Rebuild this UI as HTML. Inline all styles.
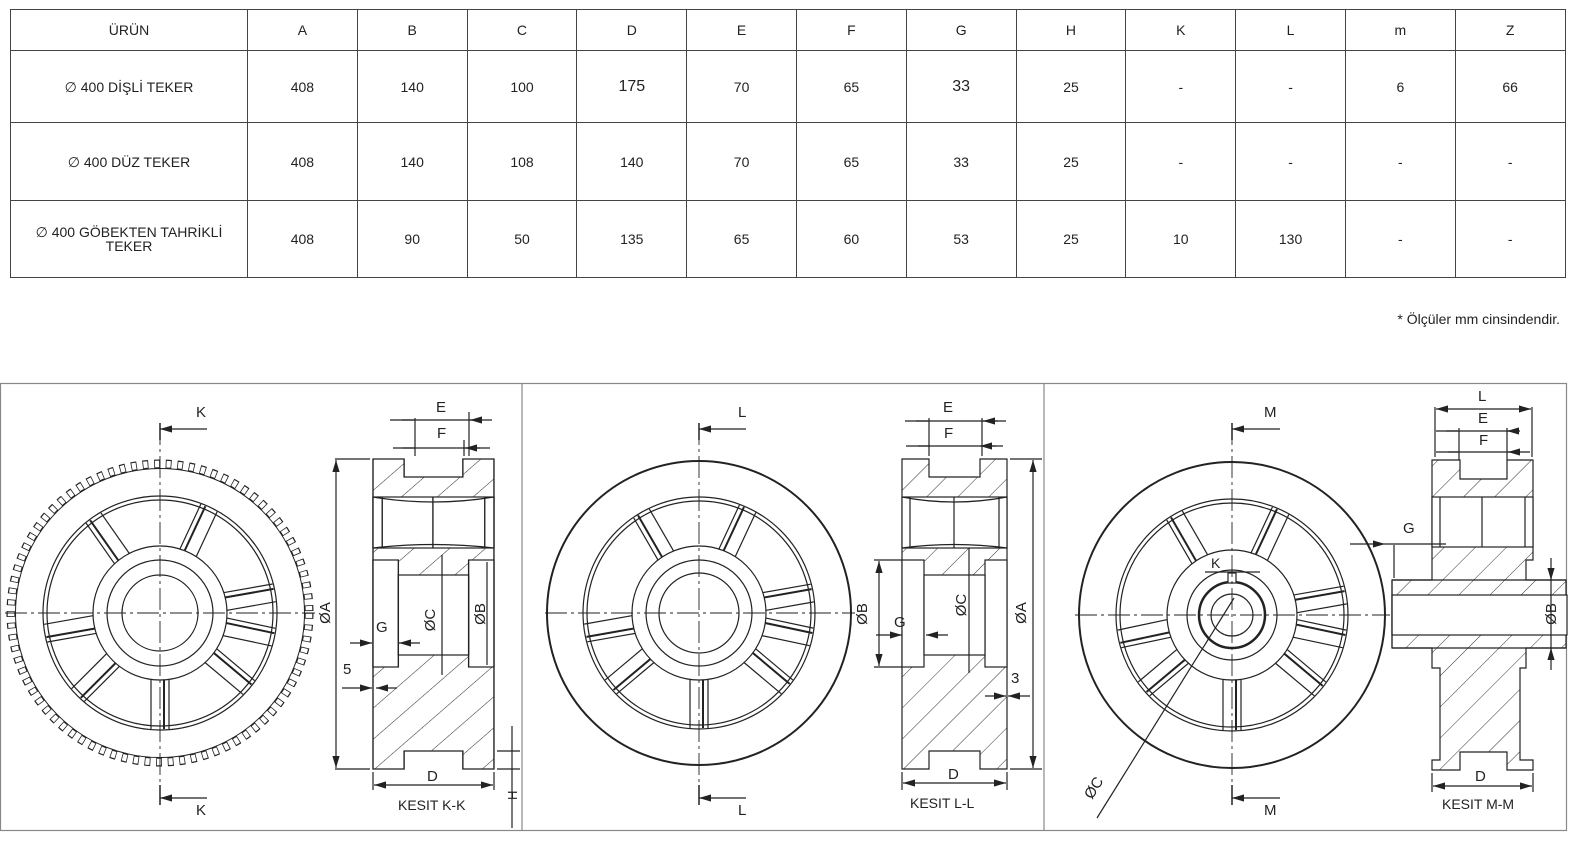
<!DOCTYPE html>
<html><head><meta charset="utf-8"><style>
body{margin:0;background:#fff;width:1596px;height:847px;overflow:hidden;position:relative;font-family:"Liberation Sans",sans-serif;color:#222}
table{position:absolute;left:10px;top:9px;border-collapse:collapse;width:1555px;font-size:14px;table-layout:fixed}
td{border:1px solid #444;text-align:center;padding:0;line-height:14px}
tr.h td{height:40px}
tr.r1 td{height:71px}
tr.r2 td{height:77px}
tr.r3 td{height:76px}
.note{position:absolute;left:1300px;top:311px;width:260px;text-align:right;font-size:14px}
svg{position:absolute;left:0;top:0}
</style></head><body>
<table>
<colgroup><col style="width:237px"><col span="12" style="width:109.8px"></colgroup>
<tr class="h"><td>ÜRÜN</td><td>A</td><td>B</td><td>C</td><td>D</td><td>E</td><td>F</td><td>G</td><td>H</td><td>K</td><td>L</td><td>m</td><td>Z</td></tr>
<tr class="r1"><td>∅ 400 DİŞLİ TEKER</td><td>408</td><td>140</td><td>100</td><td style="font-size:16px">175</td><td>70</td><td>65</td><td style="font-size:16px">33</td><td>25</td><td>-</td><td>-</td><td>6</td><td>66</td></tr>
<tr class="r2"><td>∅ 400 DÜZ TEKER</td><td>408</td><td>140</td><td>108</td><td>140</td><td>70</td><td>65</td><td>33</td><td>25</td><td>-</td><td>-</td><td>-</td><td>-</td></tr>
<tr class="r3"><td>∅ 400 GÖBEKTEN TAHRİKLİ<br>TEKER</td><td>408</td><td>90</td><td>50</td><td>135</td><td>65</td><td>60</td><td>53</td><td>25</td><td>10</td><td>130</td><td>-</td><td>-</td></tr>
</table>
<div class="note">* Ölçüler mm cinsindendir.</div>
<svg width="1596" height="847" viewBox="0 0 1596 847" font-family="Liberation Sans, sans-serif" font-size="15" fill="none" stroke="#222" stroke-width="1.2">
<defs>
<pattern id="ht" patternUnits="userSpaceOnUse" width="22" height="22" patternTransform="rotate(45)"><line x1="0" y1="0" x2="0" y2="22" stroke="#333" stroke-width="1"/></pattern>
<marker id="ar" viewBox="0 0 10 6" refX="10" refY="3" markerWidth="10" markerHeight="6" orient="auto-start-reverse"><path d="M0,0L10,3L0,6z" fill="#222" stroke="none"/></marker>
<g id="spk"><line x1="0" y1="-9" x2="100" y2="-9"/><line x1="0" y1="9" x2="100" y2="9"/><line x1="0" y1="-4" x2="100" y2="-4" stroke-width="2"/></g>
<g id="sec">
<path d="M0,0H27V18H78V0H105V310H78V292H27V310H0Z" fill="url(#ht)"/>
<rect x="0" y="38" width="105" height="51" fill="#fff"/>
<line x1="8" y1="38" x2="8" y2="89"/><line x1="97" y1="38" x2="97" y2="89"/><line x1="52" y1="38" x2="52" y2="89"/>
<path d="M0,38Q52,48 105,38M0,89Q52,82 105,89"/>
<rect x="0" y="101" width="22" height="107" fill="#fff"/><rect x="83" y="101" width="22" height="107" fill="#fff"/>
<rect x="22" y="116" width="61" height="80" fill="#fff"/>
</g>
</defs>
<rect x="0.5" y="383.5" width="1566" height="447" stroke="#888"/>
<line x1="522" y1="383" x2="522" y2="830" stroke="#888"/><line x1="1044" y1="383" x2="1044" y2="830" stroke="#888"/>

<!-- panel 1 -->
<g>
<circle cx="160" cy="613" r="149" stroke="#222" stroke-width="9" stroke-dasharray="5.8 5.8"/>
<circle cx="160" cy="613" r="149" stroke="#fff" stroke-width="6.6" stroke-dasharray="4.2 7.4" stroke-dashoffset="-0.8"/>
<circle cx="160" cy="613" r="144.5" stroke-width="1"/>
<circle cx="160" cy="613" r="117"/><circle cx="160" cy="613" r="113"/>
<g transform="translate(160 613)">
<use href="#spk" transform="rotate(90) translate(63 0) scale(0.53 1)"/><use href="#spk" transform="rotate(135) translate(63 0) scale(0.53 1)"/><use href="#spk" transform="rotate(170) translate(63 0) scale(0.53 1)"/><use href="#spk" transform="rotate(235) translate(63 0) scale(0.53 1)"/><use href="#spk" transform="rotate(295) translate(63 0) scale(0.53 1)"/><use href="#spk" transform="rotate(350) translate(63 0) scale(0.53 1)"/><use href="#spk" transform="rotate(40) translate(63 0) scale(0.53 1)"/><use href="#spk" transform="rotate(12) translate(63 0) scale(0.53 1)"/>
</g>
<circle cx="160" cy="613" r="67" fill="#fff"/><circle cx="160" cy="613" r="53"/><circle cx="160" cy="613" r="38"/>
<line x1="5" y1="613" x2="315" y2="613" stroke-dasharray="22 4 3 4" stroke-width="0.9"/>
<line x1="160" y1="423" x2="160" y2="805" stroke-dasharray="22 4 3 4" stroke-width="0.9"/>
<line x1="160" y1="423" x2="160" y2="440" stroke-width="1.5"/><line x1="207" y1="429" x2="160" y2="429" marker-end="url(#ar)"/>
<line x1="160" y1="785" x2="160" y2="805" stroke-width="1.5"/><line x1="207" y1="798" x2="160" y2="798" marker-end="url(#ar)"/>
<text x="196" y="417" fill="#222" stroke="none">K</text><text x="196" y="815" fill="#222" stroke="none">K</text>
<use href="#sec" transform="translate(373 459) scale(1.152 1)"/>
<line x1="335" y1="459" x2="370" y2="459"/><line x1="335" y1="769" x2="370" y2="769"/>
<line x1="336" y1="460" x2="336" y2="768" marker-start="url(#ar)" marker-end="url(#ar)"/>
<text transform="translate(330 613) rotate(-90)" text-anchor="middle" fill="#222" stroke="none">ØA</text>
<line x1="415" y1="418" x2="415" y2="456"/><line x1="469" y1="412" x2="469" y2="456"/><line x1="464" y1="440" x2="464" y2="456"/>
<line x1="390" y1="420" x2="492" y2="420"/><path d="M402,420H414M482,420H470" marker-end="url(#ar)"/>
<line x1="393" y1="448" x2="490" y2="448"/><path d="M403,448H414M480,448H465" marker-end="url(#ar)"/>
<text x="436" y="412" fill="#222" stroke="none">E</text><text x="437" y="438" fill="#222" stroke="none">F</text>
<text transform="translate(435 620) rotate(-90)" text-anchor="middle" fill="#222" stroke="none">ØC</text>
<text transform="translate(485 614) rotate(-90)" text-anchor="middle" fill="#222" stroke="none">ØB</text>
<line x1="442" y1="555" x2="442" y2="675"/><line x1="487" y1="562" x2="487" y2="665"/>
<text x="376" y="632" fill="#222" stroke="none">G</text>
<line x1="350" y1="643" x2="372" y2="643" marker-end="url(#ar)"/><line x1="420" y1="643" x2="399" y2="643" marker-end="url(#ar)"/>
<text x="343" y="674" fill="#222" stroke="none">5</text>
<line x1="342" y1="688" x2="372" y2="688" marker-end="url(#ar)"/><line x1="397" y1="688" x2="376" y2="688" marker-end="url(#ar)"/>
<line x1="373" y1="772" x2="373" y2="790"/><line x1="494" y1="772" x2="494" y2="790"/>
<line x1="374" y1="785" x2="493" y2="785" marker-start="url(#ar)" marker-end="url(#ar)"/>
<text x="427" y="781" fill="#222" stroke="none">D</text>
<text x="398" y="810" fill="#222" stroke="none" font-size="14">KESIT K-K</text>
<line x1="512" y1="726" x2="512" y2="828"/><line x1="497" y1="751" x2="520" y2="751"/><line x1="497" y1="769" x2="520" y2="769"/>
<text transform="translate(517 800) rotate(-90)" fill="#222" stroke="none" font-size="13">H</text>
</g>

<!-- panel 2 -->
<g>
<circle cx="699" cy="613" r="152" stroke-width="2"/>
<circle cx="699" cy="613" r="116"/><circle cx="699" cy="613" r="112"/>
<g transform="translate(699 613)">
<use href="#spk" transform="rotate(90) translate(63 0) scale(0.52 1)"/><use href="#spk" transform="rotate(140) translate(63 0) scale(0.52 1)"/><use href="#spk" transform="rotate(170) translate(63 0) scale(0.52 1)"/><use href="#spk" transform="rotate(240) translate(63 0) scale(0.52 1)"/><use href="#spk" transform="rotate(295) translate(63 0) scale(0.52 1)"/><use href="#spk" transform="rotate(350) translate(63 0) scale(0.52 1)"/><use href="#spk" transform="rotate(40) translate(63 0) scale(0.52 1)"/><use href="#spk" transform="rotate(12) translate(63 0) scale(0.52 1)"/>
</g>
<circle cx="699" cy="613" r="67" fill="#fff"/><circle cx="699" cy="613" r="53"/><circle cx="699" cy="613" r="40"/>
<line x1="545" y1="613" x2="855" y2="613" stroke-dasharray="22 4 3 4" stroke-width="0.9"/>
<line x1="699" y1="423" x2="699" y2="805" stroke-dasharray="22 4 3 4" stroke-width="0.9"/>
<line x1="699" y1="423" x2="699" y2="440" stroke-width="1.5"/><line x1="746" y1="429" x2="699" y2="429" marker-end="url(#ar)"/>
<line x1="699" y1="785" x2="699" y2="805" stroke-width="1.5"/><line x1="746" y1="798" x2="699" y2="798" marker-end="url(#ar)"/>
<text x="738" y="417" fill="#222" stroke="none">L</text><text x="738" y="815" fill="#222" stroke="none">L</text>
<use href="#sec" transform="translate(902 459)"/>
<line x1="1010" y1="459" x2="1042" y2="459"/><line x1="1010" y1="769" x2="1042" y2="769"/>
<line x1="1033" y1="460" x2="1033" y2="768" marker-start="url(#ar)" marker-end="url(#ar)"/>
<text transform="translate(1026 613) rotate(-90)" text-anchor="middle" fill="#222" stroke="none">ØA</text>
<line x1="929" y1="418" x2="929" y2="456"/><line x1="982" y1="418" x2="982" y2="456"/>
<line x1="905" y1="421" x2="1006" y2="421"/><path d="M916,421H928M998,421H983" marker-end="url(#ar)"/>
<line x1="906" y1="446" x2="1003" y2="446"/><path d="M918,446H930M996,446H980" marker-end="url(#ar)"/>
<text x="943" y="412" fill="#222" stroke="none">E</text><text x="944" y="438" fill="#222" stroke="none">F</text>
<text transform="translate(966 605) rotate(-90)" text-anchor="middle" fill="#222" stroke="none">ØC</text>
<line x1="969" y1="548" x2="969" y2="673"/>
<line x1="874" y1="560" x2="902" y2="560"/><line x1="874" y1="667" x2="902" y2="667"/>
<line x1="879" y1="561" x2="879" y2="666" marker-start="url(#ar)" marker-end="url(#ar)"/>
<text transform="translate(867 614) rotate(-90)" text-anchor="middle" fill="#222" stroke="none">ØB</text>
<text x="894" y="627" fill="#222" stroke="none">G</text>
<line x1="876" y1="635" x2="902" y2="635" marker-end="url(#ar)"/><line x1="948" y1="635" x2="926" y2="635" marker-end="url(#ar)"/>
<text x="1011" y="683" fill="#222" stroke="none">3</text>
<line x1="985" y1="696" x2="1006" y2="696" marker-end="url(#ar)"/><line x1="1030" y1="696" x2="1008" y2="696" marker-end="url(#ar)"/>
<line x1="902" y1="772" x2="902" y2="790"/><line x1="1007" y1="772" x2="1007" y2="790"/>
<line x1="903" y1="783" x2="1006" y2="783" marker-start="url(#ar)" marker-end="url(#ar)"/>
<text x="948" y="779" fill="#222" stroke="none">D</text>
<text x="910" y="808" fill="#222" stroke="none" font-size="14">KESIT L-L</text>
</g>

<!-- panel 3 -->
<g>
<circle cx="1232" cy="615" r="153" stroke-width="2"/>
<circle cx="1232" cy="615" r="116"/><circle cx="1232" cy="615" r="112"/>
<g transform="translate(1232 615)">
<use href="#spk" transform="rotate(90) translate(63 0) scale(0.52 1)"/><use href="#spk" transform="rotate(140) translate(63 0) scale(0.52 1)"/><use href="#spk" transform="rotate(168) translate(63 0) scale(0.52 1)"/><use href="#spk" transform="rotate(240) translate(63 0) scale(0.52 1)"/><use href="#spk" transform="rotate(295) translate(63 0) scale(0.52 1)"/><use href="#spk" transform="rotate(350) translate(63 0) scale(0.52 1)"/><use href="#spk" transform="rotate(40) translate(63 0) scale(0.52 1)"/><use href="#spk" transform="rotate(12) translate(63 0) scale(0.52 1)"/>
</g>
<circle cx="1232" cy="615" r="65" fill="#fff"/><circle cx="1232" cy="615" r="45"/><circle cx="1232" cy="615" r="33" stroke-width="2.5"/><circle cx="1232" cy="615" r="21"/>
<rect x="1228" y="573" width="8" height="10" fill="#fff"/>
<line x1="1075" y1="615" x2="1390" y2="615" stroke-dasharray="22 4 3 4" stroke-width="0.9"/>
<line x1="1232" y1="423" x2="1232" y2="805" stroke-dasharray="22 4 3 4" stroke-width="0.9"/>
<line x1="1232" y1="423" x2="1232" y2="440" stroke-width="1.5"/><line x1="1280" y1="429" x2="1232" y2="429" marker-end="url(#ar)"/>
<line x1="1232" y1="785" x2="1232" y2="805" stroke-width="1.5"/><line x1="1280" y1="798" x2="1232" y2="798" marker-end="url(#ar)"/>
<text x="1264" y="417" fill="#222" stroke="none">M</text><text x="1264" y="815" fill="#222" stroke="none">M</text>
<line x1="1234" y1="598" x2="1097" y2="818"/>
<text transform="translate(1092 800) rotate(-58)" fill="#222" stroke="none">ØC</text>
<line x1="1205" y1="572" x2="1260" y2="572"/><text x="1211" y="568" fill="#222" stroke="none" font-size="14">K</text>
<path d="M1432,460H1460V479H1507V460H1533V560H1526V580H1566V648H1526V668H1520V760H1533V770H1507V752H1460V770H1432V760H1440V668H1432V648H1392V580H1432Z" fill="url(#ht)"/>
<rect x="1432" y="497" width="101" height="50" fill="#fff"/>
<line x1="1440" y1="497" x2="1440" y2="547"/><line x1="1525" y1="497" x2="1525" y2="547"/><line x1="1482" y1="497" x2="1482" y2="547"/>
<rect x="1392" y="595" width="175" height="40" fill="#fff"/>
<line x1="1392" y1="580" x2="1566" y2="580"/><line x1="1392" y1="648" x2="1566" y2="648"/><line x1="1392" y1="580" x2="1392" y2="648"/>
<line x1="1435" y1="407" x2="1435" y2="457"/><line x1="1532" y1="407" x2="1532" y2="457"/>
<line x1="1436" y1="409" x2="1531" y2="409" marker-start="url(#ar)" marker-end="url(#ar)"/>
<line x1="1436" y1="431" x2="1520" y2="431"/><path d="M1446,431H1458M1518,431H1507" marker-end="url(#ar)"/>
<line x1="1436" y1="452" x2="1530" y2="452"/><path d="M1448,452H1459M1520,452H1508" marker-end="url(#ar)"/>
<line x1="1459" y1="428" x2="1459" y2="460"/><line x1="1507" y1="428" x2="1507" y2="460"/>
<text x="1478" y="401" fill="#222" stroke="none">L</text><text x="1478" y="423" fill="#222" stroke="none">E</text><text x="1479" y="445" fill="#222" stroke="none">F</text>
<text x="1403" y="533" fill="#222" stroke="none">G</text>
<line x1="1350" y1="544" x2="1385" y2="544" marker-end="url(#ar)"/><line x1="1385" y1="544" x2="1446" y2="544"/>
<line x1="1394" y1="545" x2="1394" y2="578"/>
<line x1="1551" y1="558" x2="1551" y2="670"/><line x1="1551" y1="570" x2="1551" y2="580" marker-end="url(#ar)"/><line x1="1551" y1="660" x2="1551" y2="648" marker-end="url(#ar)"/>
<text transform="translate(1556 614) rotate(-90)" text-anchor="middle" fill="#222" stroke="none">ØB</text>
<line x1="1432" y1="773" x2="1432" y2="792"/><line x1="1533" y1="773" x2="1533" y2="792"/>
<line x1="1433" y1="786" x2="1532" y2="786" marker-start="url(#ar)" marker-end="url(#ar)"/>
<text x="1475" y="781" fill="#222" stroke="none">D</text>
<text x="1442" y="809" fill="#222" stroke="none" font-size="14">KESIT M-M</text>
</g>
</svg>
</body></html>
